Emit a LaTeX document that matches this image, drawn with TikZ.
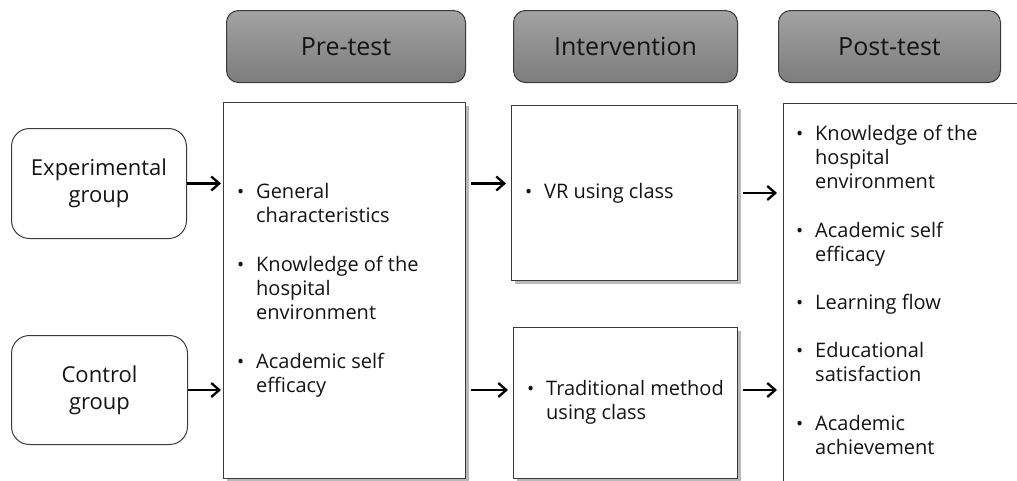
\documentclass[tikz,border=0pt]{standalone}
\usepackage{fontspec}
\setmainfont{Open Sans}
\usetikzlibrary{arrows.meta,shadows}
\definecolor{hdtop}{HTML}{A2A2A2}
\definecolor{hdbot}{HTML}{7D7D7D}
\definecolor{edge}{HTML}{3A3A3A}
\definecolor{ink}{HTML}{141414}
% bullet with a hanging gap before the item text
\newcommand{\bl}{\makebox[19pt][l]{\fontsize{19}{19}\selectfont\textbullet}}

\begin{document}
\begin{tikzpicture}[x=1pt,y=-1pt]
  \tikzset{phase/.style={draw=edge,line width=1pt,rounded corners=12pt,top color=hdtop,bottom color=hdbot,anchor=north west,font=\fontsize{25}{28}\selectfont,text=ink},
    box/.style={draw=edge,line width=1pt,fill=white,anchor=north west,drop shadow={shadow xshift=3pt,shadow yshift=-3pt,opacity=.55}},
    group/.style={draw=edge,line width=1pt,rounded corners=18pt,anchor=north west,align=center,font=\fontsize{22}{27}\selectfont,text=ink},
    items/.style={anchor=west,font=\fontsize{20}{24}\selectfont,text=ink,inner sep=0pt},
    arrow/.style={-{Straight Barb[length=8pt,width=14pt]},line width=2.3pt}}
  \useasboundingbox (0,0) rectangle (1017,480);

  % phase headers
  \node[phase,minimum width=239pt,minimum height=72pt] (hdpre) at (226,10) {Pre-test};
  \node[phase,minimum width=224pt,minimum height=72pt] (hdint) at (513,10) {Intervention};
  \node[phase,minimum width=222pt,minimum height=72pt] (hdpost) at (778,10) {Post-test};

  % groups
  \node[group,minimum width=175pt,minimum height=110pt] (expg) at (11,128) {Experimental\\group};
  \node[group,minimum width=176pt,minimum height=109pt] (ctlg) at (11,335) {Control\\group};

  % measurement and class boxes
  \node[box,minimum width=242pt,minimum height=376pt] (pre) at (223,102) {};
  \node[box,minimum width=226pt,minimum height=175pt] (vr) at (511,105) {};
  \node[box,minimum width=224pt,minimum height=151pt] (trad) at (513,327) {};
  \node[box,minimum width=240pt,minimum height=378pt] (post) at (783,103) {};

  \node[items] (prelist) at ([xshift=14pt]pre.west) {\begin{tabular}{@{}l@{}l@{}}
    \bl & General\\ & characteristics\\[25pt]
    \bl & Knowledge of the\\ & hospital\\ & environment\\[25pt]
    \bl & Academic self\\ & efficacy
  \end{tabular}};
  \node[items] (vrlist) at ([xshift=14pt]vr.west) {\bl VR using class};
  \node[items] (tradlist) at ([xshift=14pt]trad.west) {\begin{tabular}{@{}l@{}l@{}}
    \bl & Traditional method\\ & using class
  \end{tabular}};
  \node[items] (postlist) at ([xshift=13pt]post.west) {\begin{tabular}{@{}l@{}l@{}}
    \bl & Knowledge of the\\ & hospital\\ & environment\\[25pt]
    \bl & Academic self\\ & efficacy\\[24pt]
    \bl & Learning flow\\[24pt]
    \bl & Educational\\ & satisfaction\\[25pt]
    \bl & Academic\\ & achievement
  \end{tabular}};

  % flow
  \draw[arrow] (expg.east) -- ([xshift=-2pt]pre.west |- expg.east);
  \draw[arrow] (ctlg.east) -- ([xshift=-2pt]pre.west |- ctlg.east);
  \draw[arrow] ([xshift=5pt]pre.east |- expg.east) -- ([xshift=-5pt]vr.west |- expg.east);
  \draw[arrow] ([xshift=5pt]pre.east |- ctlg.east) -- ([xshift=-5pt]trad.west |- ctlg.east);
  \draw[arrow] ([xshift=5pt]vr.east) -- ([xshift=-6pt]post.west |- vr.east);
  \draw[arrow] ([xshift=5pt]trad.east |- ctlg.east) -- ([xshift=-6pt]post.west |- ctlg.east);
\end{tikzpicture}
\end{document}
